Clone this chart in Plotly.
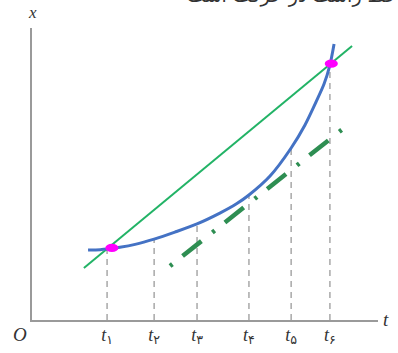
import plotly.graph_objects as go

# tick positions (time axis) and their labels
t_ticks = [2.17, 3.53, 4.77, 6.27, 7.49, 8.61]
t_labels = ["<i>t</i><sub>۱</sub>", "<i>t</i><sub>۲</sub>", "<i>t</i><sub>۳</sub>",
            "<i>t</i><sub>۴</sub>", "<i>t</i><sub>۵</sub>", "<i>t</i><sub>۶</sub>"]
# curve height at each tick (top of the dashed guide lines)
x_at_ticks = [2.43, 2.77, 3.29, 4.28, 5.89, 8.73]

# position-time curve
curve_t = [1.62, 1.97, 2.17, 2.54, 2.98, 3.53, 4.13, 4.77, 5.43, 5.90, 6.27,
           6.88, 7.49, 7.89, 8.21, 8.44, 8.61, 8.73]
curve_x = [2.40, 2.41, 2.43, 2.49, 2.59, 2.77, 3.01, 3.29, 3.66, 3.97, 4.28,
           4.93, 5.89, 6.68, 7.47, 8.08, 8.73, 9.45]

# secant (chord) line
chord_t = [1.50, 9.25]
chord_x = [1.78, 9.38]

# parallel tangent line (dash-dot)
tangent_t = [3.99, 9.16]
tangent_x = [1.85, 6.71]

# intersection points of chord and curve
meet_t = [2.31, 8.65]
meet_x = [2.47, 8.78]

serif = "Liberation Serif, DejaVu Serif, DejaVu Sans, serif"

fig = go.Figure()

# dashed vertical guides
vx, vy = [], []
for t, h in zip(t_ticks, x_at_ticks):
    vx += [t, t, None]
    vy += [0, h, None]
fig.add_trace(go.Scatter(x=vx, y=vy, mode="lines",
                         line=dict(color="#a8a8a8", width=1.5, dash="6px,5px"),
                         hoverinfo="skip", showlegend=False))

fig.add_trace(go.Scatter(x=chord_t, y=chord_x, mode="lines",
                         line=dict(color="#22b366", width=2),
                         showlegend=False))
fig.add_trace(go.Scatter(x=tangent_t, y=tangent_x, mode="lines",
                         line=dict(color="#2e8e52", width=4.5, dash="3px,13px,24px,14px"),
                         showlegend=False))
fig.add_trace(go.Scatter(x=curve_t, y=curve_x, mode="lines",
                         line=dict(color="#4472c4", width=3, shape="spline", smoothing=0.8),
                         showlegend=False))

shapes = []
for t, h in zip(meet_t, meet_x):
    shapes.append(dict(type="circle", xref="x", yref="y", layer="above",
                       x0=t - 0.19, x1=t + 0.19, y0=h - 0.14, y1=h + 0.14,
                       fillcolor="#ff00ff", line=dict(width=0)))

annotations = [
    dict(text="<i>x</i>", xref="paper", yref="paper", x=0, y=1, xanchor="center",
         yanchor="bottom", yshift=4, showarrow=False,
         font=dict(family=serif, size=17, color="#333")),
    dict(text="<i>t</i>", xref="paper", yref="paper", x=1, y=0, xanchor="left",
         yanchor="middle", xshift=3, yshift=1, showarrow=False,
         font=dict(family=serif, size=19, color="#333")),
    dict(text="<i>O</i>", xref="paper", yref="paper", x=0, y=0, xanchor="right",
         yanchor="top", xshift=-3, yshift=-2, showarrow=False,
         font=dict(family=serif, size=19, color="#333")),
    dict(text="نمودار مکان ـ زمان متحرکی که روی خط راست در حرکت است",
         xref="paper", yref="paper",
         x=0.442, y=1, xanchor="left", yanchor="bottom", yshift=19, showarrow=False,
         font=dict(family="DejaVu Sans, sans-serif", size=19, color="#333")),
]

fig.update_layout(
    width=398, height=353, autosize=False,
    margin=dict(l=32, r=20, t=28, b=33),
    paper_bgcolor="white", plot_bgcolor="white",
    shapes=shapes, annotations=annotations,
    xaxis=dict(range=[0, 10], showgrid=False, zeroline=False, automargin=False,
               showline=True, linecolor="#9a9a9a", linewidth=2,
               tickmode="array", tickvals=t_ticks, ticktext=t_labels,
               ticks="", ticklabelstandoff=-3,
               tickfont=dict(family=serif, size=18, color="#333")),
    yaxis=dict(range=[0, 10], showgrid=False, zeroline=False, automargin=False,
               showline=True, linecolor="#9a9a9a", linewidth=2,
               showticklabels=False, ticks=""),
)

fig.write_html("out.html",
               config={"displayModeBar": False, "responsive": False},
               post_script="document.body.style.margin='0';document.body.style.overflow='hidden';")
